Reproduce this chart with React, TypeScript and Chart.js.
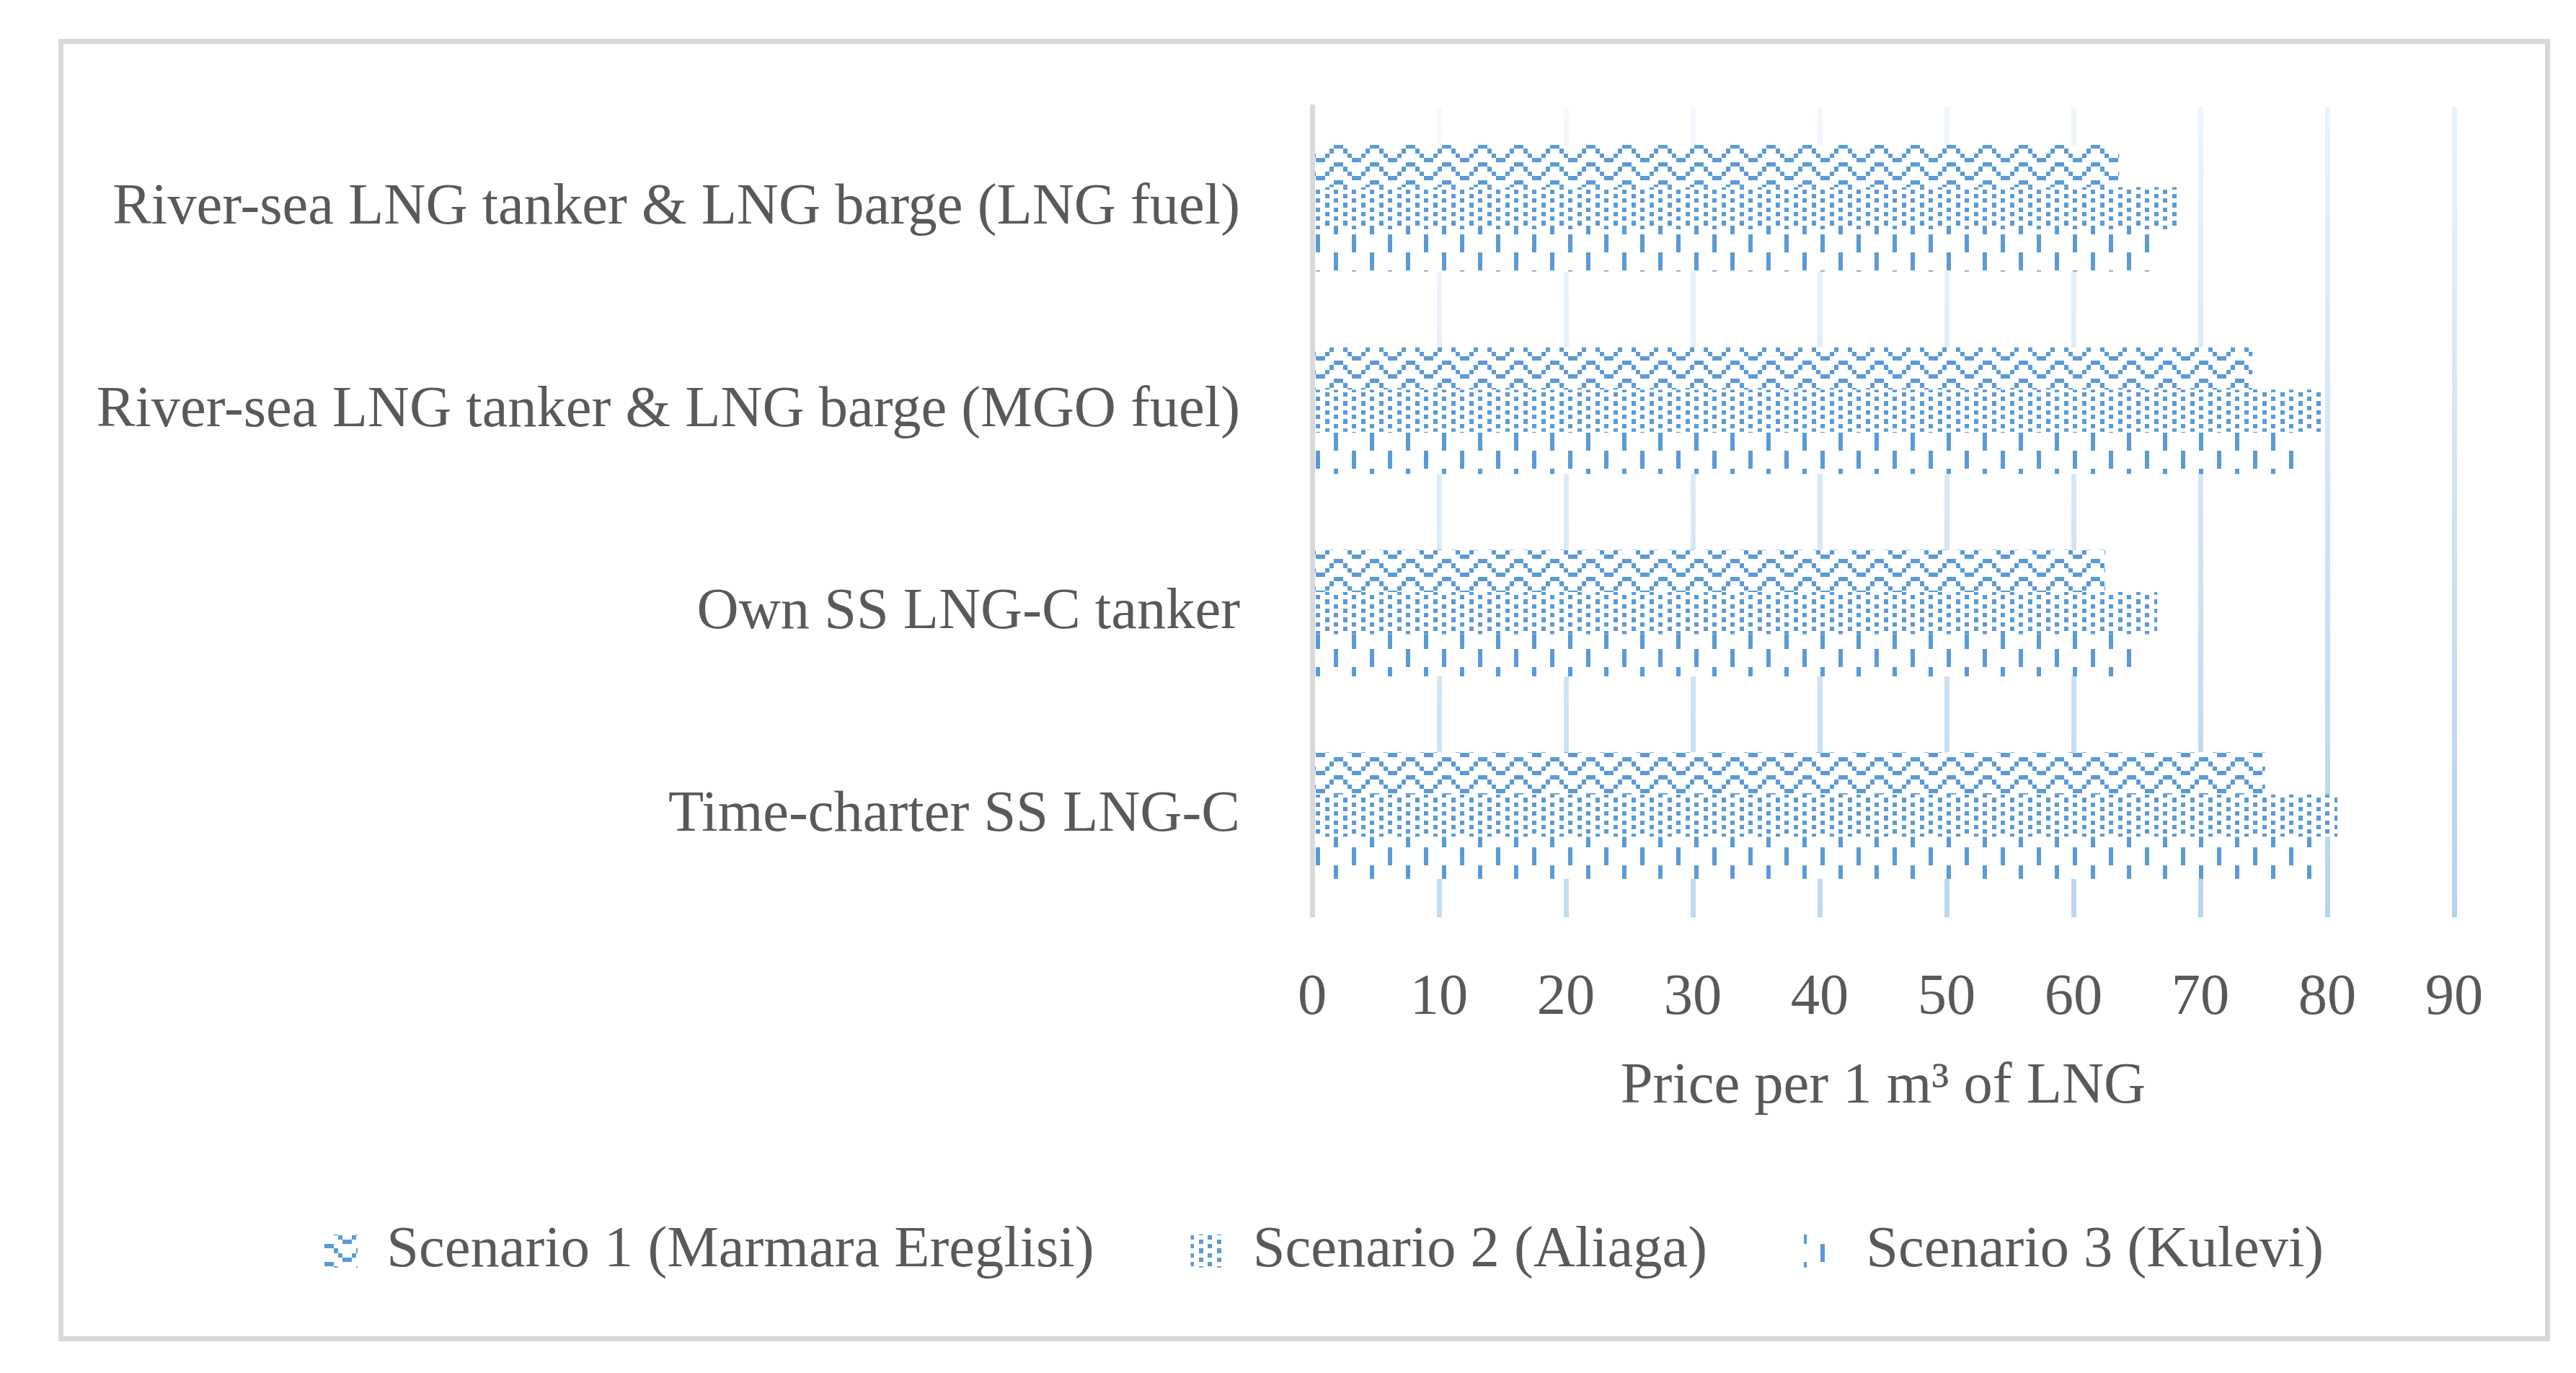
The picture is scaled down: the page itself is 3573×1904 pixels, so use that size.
import React, { useEffect, useRef } from 'react';
import { Chart, registerables } from 'chart.js';

Chart.register(...registerables);

// ---------------- data ----------------
const categories = [
  'River-sea LNG tanker & LNG barge (LNG fuel)',
  'River-sea LNG tanker & LNG barge (MGO fuel)',
  'Own SS LNG-C tanker',
  'Time-charter SS LNG-C',
];
const seriesNames = ['Scenario 1 (Marmara Ereglisi)', 'Scenario 2 (Aliaga)', 'Scenario 3 (Kulevi)'];
const scenario1 = [63.6, 74.1, 62.5, 75.1];
const scenario2 = [68.3, 79.8, 66.6, 80.8];
const scenario3 = [66.5, 77.9, 65.2, 79.4];
const xTickLabels = ['0', '10', '20', '30', '40', '50', '60', '70', '80', '90'];
const xMin = 0;
const xMax = 90;
const xStep = 10;
const xTitle = 'Price per 1 m\u00B3 of LNG';

// ---------------- styling ----------------
const BLUE = '#5b9bd5';
const TEXT = '#595959';
const FONT = { family: 'Liberation Serif', size: 80.5 };
const LEGEND_PAD = 134;

// 8x8 Excel-like pattern bitmaps
const zigzag = [
  '11000000',
  '00100001',
  '00010010',
  '00001100',
  '11000000',
  '00100001',
  '00010010',
  '00001100',
];
const dots25 = [
  '10001000',
  '00100010',
  '10001000',
  '00100010',
  '10001000',
  '00100010',
  '10001000',
  '00100010',
];
const dashVert = [
  '10000000',
  '10000000',
  '10000000',
  '10000000',
  '00001000',
  '00001000',
  '00001000',
  '00001000',
];

function makePattern(ctx: CanvasRenderingContext2D, rows: string[]) {
  const size = 50;
  const c = document.createElement('canvas');
  c.width = size;
  c.height = size;
  const g = c.getContext('2d')!;
  g.fillStyle = '#ffffff';
  g.fillRect(0, 0, size, size);
  g.fillStyle = BLUE;
  const b = size / 8;
  rows.forEach((r, y) => {
    for (let x = 0; x < 8; x++) {
      if (r[x] === '1') {
        const x0 = Math.round(x * b);
        const x1 = Math.round((x + 1) * b);
        const y0 = Math.round(y * b);
        const y1 = Math.round((y + 1) * b);
        g.fillRect(x0, y0, x1 - x0, y1 - y0);
      }
    }
  });
  return ctx.createPattern(c, 'repeat')!;
}

function mix(a: number) {
  const r = Math.round(255 - a * 164);
  const gg = Math.round(255 - a * 100);
  const bb = Math.round(255 - a * 42);
  return `rgb(${r},${gg},${bb})`;
}

// moves the (left-aligned) legend row so that it starts at the wanted x
const legendShift = {
  id: 'legendShift',
  afterLayout(chart: any) {
    const lg = chart.legend;
    if (!lg) return;
    const w = lg.right - lg.left;
    lg.left = 450 - LEGEND_PAD;
    lg.right = lg.left + w;
  },
};

export default function App() {
  const ref = useRef<HTMLCanvasElement>(null);

  useEffect(() => {
    const canvas = ref.current!;
    const ctx = canvas.getContext('2d')!;
    const patterns = [makePattern(ctx, zigzag), makePattern(ctx, dots25), makePattern(ctx, dashVert)];
    const values = [scenario1, scenario2, scenario3];

    const chart = new Chart(ctx, {
      type: 'bar',
      data: {
        labels: categories,
        datasets: values.map((v, i) => ({
          label: seriesNames[i],
          data: v,
          backgroundColor: patterns[i],
          borderWidth: 0,
          categoryPercentage: 0.625,
          barPercentage: 1,
        })),
      },
      plugins: [legendShift],
      options: {
        indexAxis: 'y',
        responsive: false,
        animation: false,
        devicePixelRatio: 1,
        layout: { padding: { left: 0, right: 169, top: 148, bottom: 119 } },
        plugins: {
          tooltip: { enabled: false },
          legend: {
            position: 'bottom',
            align: 'start',
            labels: {
              boxWidth: 46,
              boxHeight: 46,
              padding: LEGEND_PAD,
              font: FONT,
              color: TEXT,
            },
          },
        },
        scales: {
          x: {
            type: 'linear',
            min: xMin,
            max: xMax,
            ticks: {
              stepSize: xStep,
              font: FONT,
              color: TEXT,
              padding: 65,
              maxRotation: 0,
              autoSkip: false,
              callback: (_v: any, i: number) => xTickLabels[i],
            },
            grid: {
              lineWidth: 7,
              drawTicks: false,
              tickLength: 0,
              color: (c: any) => {
                if (c.index === 0) return '#d9d9d9';
                const area = c.chart.chartArea;
                if (!area) return '#dae6f3';
                const g = c.chart.ctx.createLinearGradient(0, area.top, 0, area.bottom);
                const i = c.index;
                g.addColorStop(0, mix(0.04 + 0.01 * i));
                g.addColorStop(1, mix(0.34 + 0.012 * i));
                return g;
              },
            },
            border: { display: false },
            title: {
              display: true,
              text: xTitle,
              font: FONT,
              color: TEXT,
              padding: { top: 0, bottom: 4 },
            },
            afterFit: (s: any) => {
              s.height = 283 + (140 - LEGEND_PAD);
            },
          },
          y: {
            ticks: { font: FONT, color: TEXT, padding: 100 },
            grid: { display: false, drawTicks: false, tickLength: 0 },
            border: { display: true, color: '#d9d9d9', width: 7, z: 1 },
            afterFit: (s: any) => {
              s.width = 1820;
            },
          },
        },
      } as any,
    });
    return () => chart.destroy();
  }, []);

  return (
    <div
      style={{
        position: 'fixed',
        left: 0,
        top: 0,
        width: 3573,
        height: 1904,
        overflow: 'hidden',
        background: '#ffffff',
      }}
    >
      <div
        style={{
          position: 'absolute',
          left: 81,
          top: 54,
          width: 3456,
          height: 1806,
          border: '7px solid #d9d9d9',
          boxSizing: 'border-box',
        }}
      />
      <canvas
        ref={ref}
        width={3573}
        height={1904}
        style={{ position: 'absolute', left: 0, top: 0, width: 3573, height: 1904 }}
      />
    </div>
  );
}
